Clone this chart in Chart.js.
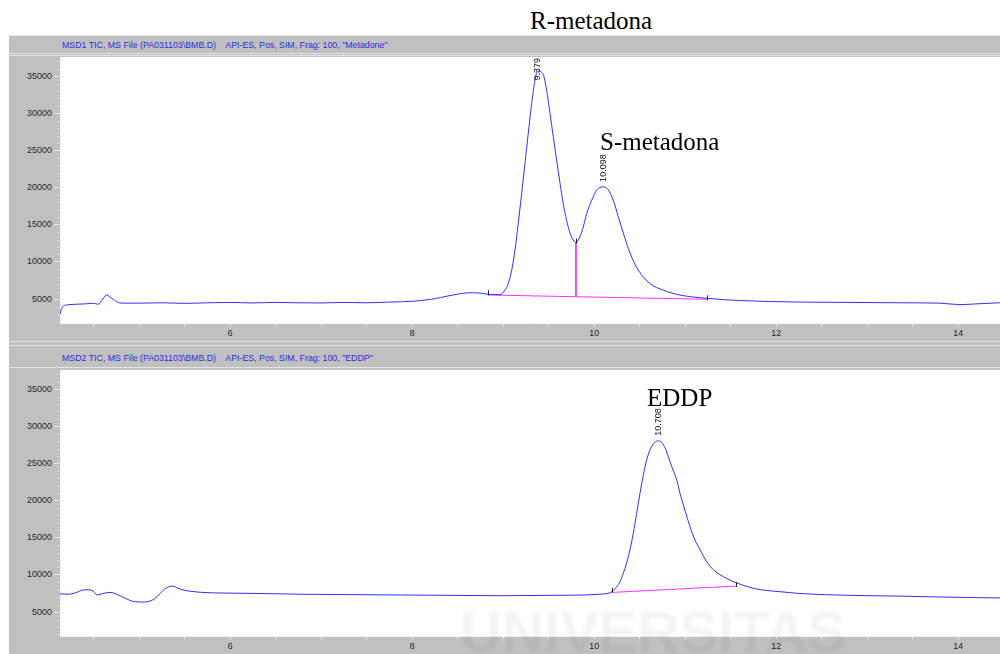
<!DOCTYPE html>
<html><head><meta charset="utf-8">
<script src="https://cdn.jsdelivr.net/npm/chart.js@4"></script>
<style>
html,body{margin:0;padding:0;background:#fff;width:1000px;height:654px;overflow:hidden;font-family:"Liberation Sans",Arial,sans-serif;}
#frame{position:absolute;left:9px;top:35px;width:991px;height:619px;background:#c0c0c0;}
.hl{position:absolute;left:9px;width:991px;height:1px;background:#e4e4e4;}
.hdr{position:absolute;left:62px;font-size:8.8px;color:#2c2ce0;white-space:pre;line-height:10px;}
.cw{position:absolute;left:0;width:1000px;height:284px;}
.big{position:absolute;font-family:"Liberation Serif","Times New Roman",serif;font-size:25px;color:#000;white-space:pre;line-height:25px;z-index:5;}
#wm{position:absolute;left:460px;top:598px;font:bold 58px "Liberation Sans",Arial,sans-serif;color:rgba(0,0,0,0.045);filter:blur(1.5px);white-space:pre;z-index:4;}
</style></head>
<body>
<div id="frame"></div>
<div class="hl" style="top:35px"></div>
<div class="hl" style="top:53px"></div>
<div class="hl" style="top:55px"></div>
<div class="hdr" style="top:40px">MSD1 TIC, MS File (PA031103\BMB.D)    API-ES, Pos, SIM, Frag: 100, "Metadone"</div>
<div class="hl" style="top:341px"></div>
<div class="hl" style="top:345px"></div>
<div class="hl" style="top:367px"></div>
<div class="hdr" style="top:353px">MSD2 TIC, MS File (PA031103\BMB.D)    API-ES, Pos, SIM, Frag: 100, "EDDP"</div>
<div class="cw" style="top:57px"><canvas id="c1" width="1000" height="284"></canvas></div>
<div class="cw" style="top:370px"><canvas id="c2" width="1000" height="284"></canvas></div>
<div id="wm">UNIVERSITAS</div>
<div class="big" style="left:530px;top:8px">R-metadona</div>
<div class="big" style="left:600px;top:129px">S-metadona</div>
<div class="big" style="left:647px;top:385px">EDDP</div>
<script>
// ---- data (retention time in min, abundance) ----
const topTimes = [4.13,4.16,4.20,4.30,4.40,4.50,4.55,4.60,4.64,4.71,4.78,4.85,5.00,5.25,5.50,5.75,6.00,6.25,6.50,6.75,7.00,7.25,7.50,7.75,8.00,8.20,8.31,8.47,8.64,8.75,8.83,8.965,9.02,9.056,9.094,9.13,9.166,9.203,9.24,9.276,9.313,9.35,9.379,9.441,9.478,9.515,9.55,9.588,9.625,9.66,9.697,9.735,9.77,9.80,9.844,9.88,9.918,9.973,10.03,10.098,10.155,10.21,10.265,10.32,10.394,10.485,10.613,10.76,10.94,11.24,11.60,12.26,12.81,13.36,13.80,14.02,14.19,14.46];
const topValues = [3000,4000,4200,4300,4350,4430,4300,5000,5550,5000,4500,4450,4450,4500,4420,4500,4550,4480,4550,4500,4480,4550,4500,4600,4700,4950,5200,5600,5850,5800,5650,5600,6200,7100,8900,11600,15200,19200,23300,27300,31300,34500,35700,35200,33100,30000,26900,23700,20600,17900,15600,13900,12950,12600,13400,14700,16500,18300,19700,20100,19700,18300,16100,13900,11200,8900,7100,6200,5550,5100,4800,4600,4550,4500,4450,4250,4350,4500];
const bottomTimes = [4.13,4.22,4.29,4.40,4.48,4.54,4.60,4.68,4.77,4.84,4.95,5.06,5.17,5.28,5.36,5.45,5.56,5.78,6.00,6.33,6.77,7.32,7.87,8.42,8.965,9.51,10.06,10.196,10.247,10.284,10.32,10.357,10.394,10.43,10.467,10.504,10.54,10.577,10.632,10.708,10.78,10.815,10.852,10.907,10.943,10.998,11.053,11.108,11.163,11.236,11.31,11.46,11.57,11.75,11.90,12.04,12.26,12.81,13.36,13.91,14.46];
const bottomValues = [7450,7400,7550,8000,7950,7300,7500,7650,7300,6900,6400,6350,6800,8100,8500,8100,7800,7600,7550,7500,7400,7350,7300,7250,7200,7250,7400,7750,8400,9100,10200,11600,13400,15600,18300,21000,23400,25500,27300,28060,27100,25900,24600,22800,21000,18700,16500,14700,13400,11800,10700,9500,8900,8200,7900,7750,7500,7250,7150,7000,6900];
// integration baselines
const topBaseTimes = [8.83,11.24];
const topBaseValues = [5550,4970];
const topDropTimes = [9.80,9.80];
const topDropValues = [12600,5320];
const bottomBaseTimes = [10.20,11.56];
const bottomBaseValues = [7650,8500];
// integration event marks (start / split / end)
const topMarkTimes = [8.83,9.80,11.24];
const topMarkValues = [5650,12600,4970];
const bottomMarkTimes = [10.20,11.56];
const bottomMarkValues = [7750,8500];
// peak apex labels
const topPeakTimes = [9.379,10.098];
const topPeakValues = [35700,20100];
const topPeakLabels = ["9.379","10.098"];
const bottomPeakTimes = [10.708];
const bottomPeakValues = [28060];
const bottomPeakLabels = ["10.708"];
// ticks
const xTickLabels = [6,8,10,12,14];
const xTickPositions = [4.5,5,5.5,6,6.5,7,7.5,8,8.5,9,9.5,10,10.5,11,11.5,12,12.5,13,13.5,14];
const yTickValues = [5000,10000,15000,20000,25000,30000,35000];
const X_MIN = 4.13, X_MAX = 14.46, Y_MIN = 1780, Y_MAX = 37580;

const pts = (ts, vs) => ts.map((t,i)=>({x:t,y:vs[i]}));

function decor(peakT, peakV, peakL, markT, markV){
  return {
    id:'decor',
    beforeDraw(chart){
      const a = chart.chartArea, ctx = chart.ctx;
      ctx.save(); ctx.fillStyle = '#ffffff';
      ctx.fillRect(a.left, a.top, a.right - a.left, a.bottom - a.top);
      ctx.restore();
    },
    afterDraw(chart){
      const a = chart.chartArea, ctx = chart.ctx, xs = chart.scales.x, ys = chart.scales.y;
      ctx.save();
      ctx.strokeStyle = '#e2e2e2'; ctx.lineWidth = 1;
      for (let v = 2000; v <= 37000; v += 1000) {
        if (v % 5000 === 0) continue;
        const y = Math.round(ys.getPixelForValue(v)) + 0.5;
        ctx.beginPath(); ctx.moveTo(a.left - 3, y); ctx.lineTo(a.left - 1, y); ctx.stroke();
      }
      // integration event ticks
      ctx.strokeStyle = '#222';
      markT.forEach((t,i)=>{
        const x = Math.round(xs.getPixelForValue(t)) + 0.5, y = ys.getPixelForValue(markV[i]);
        ctx.beginPath(); ctx.moveTo(x, y - 4); ctx.lineTo(x, y + 1); ctx.stroke();
      });
      ctx.fillStyle = '#111'; ctx.font = '9px "Liberation Sans", Arial, sans-serif';
      ctx.textAlign = 'left'; ctx.textBaseline = 'middle';
      peakT.forEach((t,i)=>{
        const x = xs.getPixelForValue(t), y = ys.getPixelForValue(peakV[i]);
        const w = ctx.measureText(peakL[i]).width;
        let b = y - 5;
        if (b - w < a.top + 1) b = a.top + 1 + w;
        ctx.save(); ctx.translate(x, b); ctx.rotate(-Math.PI/2);
        ctx.fillText(peakL[i], 0, 0); ctx.restore();
      });
      ctx.restore();
    }
  };
}

function makeChart(id, times, values, extra, peakT, peakV, peakL, markT, markV){
  const datasets = [
    {data: pts(times, values), borderColor:'#3030ff', borderWidth:1, pointRadius:0, cubicInterpolationMode:'monotone', fill:false},
  ].concat(extra.map(e=>({data: pts(e[0], e[1]), borderColor:'#ff30ff', borderWidth:1, pointRadius:0, tension:0, fill:false})));
  return new Chart(document.getElementById(id), {
    type:'line',
    data:{datasets},
    options:{
      responsive:false, animation:false, devicePixelRatio:1, events:[],
      layout:{padding:0},
      plugins:{legend:{display:false}, tooltip:{enabled:false}},
      scales:{
        x:{type:'linear', min:X_MIN, max:X_MAX,
          afterBuildTicks: s => { s.ticks = xTickPositions.map(v=>({value:v})); },
          ticks:{autoSkip:false, maxRotation:0, padding:2, color:'#222', font:{size:9, family:'"Liberation Sans", Arial, sans-serif'},
            callback: v => xTickLabels.includes(v) ? String(v) : ''},
          grid:{drawOnChartArea:false, drawTicks:true, tickLength:3, color:'#f2f2f2'},
          border:{display:true, color:'#f4f4f4'},
          afterFit: s => { s.height = 18; s.paddingLeft = 0; s.paddingRight = 0; }
        },
        y:{type:'linear', min:Y_MIN, max:Y_MAX,
          afterBuildTicks: s => { s.ticks = yTickValues.map(v=>({value:v})); },
          ticks:{padding:2, color:'#222', font:{size:9, family:'"Liberation Sans", Arial, sans-serif'},
            callback: v => String(v)},
          grid:{drawOnChartArea:false, drawTicks:true, tickLength:6, color:'#e6e6e6'},
          border:{display:true, color:'#f4f4f4'},
          afterFit: s => { s.width = 60; s.paddingTop = 0; s.paddingBottom = 0; }
        }
      }
    },
    plugins:[decor(peakT, peakV, peakL, markT, markV)]
  });
}

makeChart('c1', topTimes, topValues,
  [[topBaseTimes, topBaseValues],[topDropTimes, topDropValues]],
  topPeakTimes, topPeakValues, topPeakLabels, topMarkTimes, topMarkValues);
makeChart('c2', bottomTimes, bottomValues,
  [[bottomBaseTimes, bottomBaseValues]],
  bottomPeakTimes, bottomPeakValues, bottomPeakLabels, bottomMarkTimes, bottomMarkValues);
</script>
</body></html>
